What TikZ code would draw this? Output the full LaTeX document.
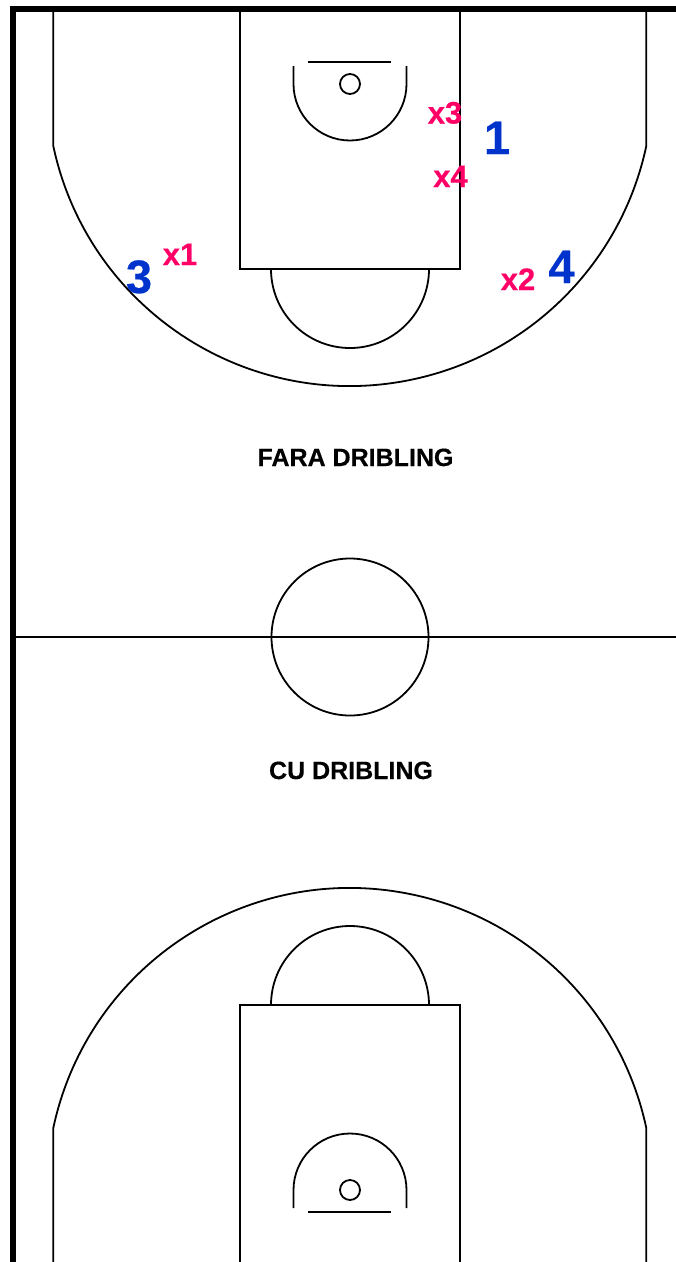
\documentclass[tikz,border=0pt]{standalone}
\usepackage{fontspec}
\setmainfont[BoldFeatures={FakeBold=0.4}]{Liberation Sans}
\usepackage{xcolor}
\definecolor{attackblue}{RGB}{0, 51, 204}
\definecolor{defensepink}{RGB}{255, 0, 102}
\tikzset{
  courtline/.style={black, line width=1.8pt},
  attacker/.style={attackblue, font=\fontsize{47}{47}\bfseries\selectfont, anchor=base, inner sep=0pt},
  defender/.style={defensepink, font=\fontsize{31}{31}\bfseries\selectfont, anchor=base, inner sep=0pt},
  caption/.style={black, font=\fontsize{25}{25}\bfseries\selectfont, anchor=base, inner sep=0pt}
}
\begin{document}
\begin{tikzpicture}[x=1pt, y=-1pt]
        \useasboundingbox (0,0) rectangle (676,1262);
        % Half court, drawn once and mirrored round the centre line
        \foreach \yoff/\yflip in {0/1, 1274/-1} {
          \begin{scope}[shift={(0,\yoff)}, yscale=\yflip]
            \draw[courtline] (53.3,10) -- (53.3,146) arc[start angle=167.98, end angle=12.02, radius=303.15] -- (646.3,10);
            \draw[courtline] (240,10) -- (240,269) -- (460,269) -- (460,10);
            \draw[courtline] (271,269) arc[start angle=180, end angle=0, radius=79];
            \draw[courtline] (293.5,66) -- (293.5,84) arc[start angle=180, end angle=0, radius=56.5] -- (406.5,66);
            \draw[courtline] (308,62) -- (391,62);
            \draw[courtline] (350,84) circle[radius=10];
          \end{scope}
        }
        % Centre line and circle
        \draw[courtline] (13,637) -- (676,637);
        \draw[courtline] (350,637) circle[radius=78.5];
        % Side and end lines
        \draw[black, line width=6.4pt] (13,1262) -- (13,8.7) -- (676,8.7);
        % Players
        \node[attacker] (att1) at (497,154) {1};
        \node[attacker] (att3) at (139,293) {3};
        \node[attacker] (att4) at (561.5,283) {4};
        \node[defender] (def1) at (180,265) {x1};
        \node[defender] (def2) at (518,290) {x2};
        \node[defender] (def3) at (445,123.5) {x3};
        \node[defender] (def4) at (450.5,187) {x4};
        % Captions
        \node[caption] (nodribble) at (355.5,466) {FARA DRIBLING};
        \node[caption] (dribble) at (351,779) {CU DRIBLING};
\end{tikzpicture}
\end{document}
